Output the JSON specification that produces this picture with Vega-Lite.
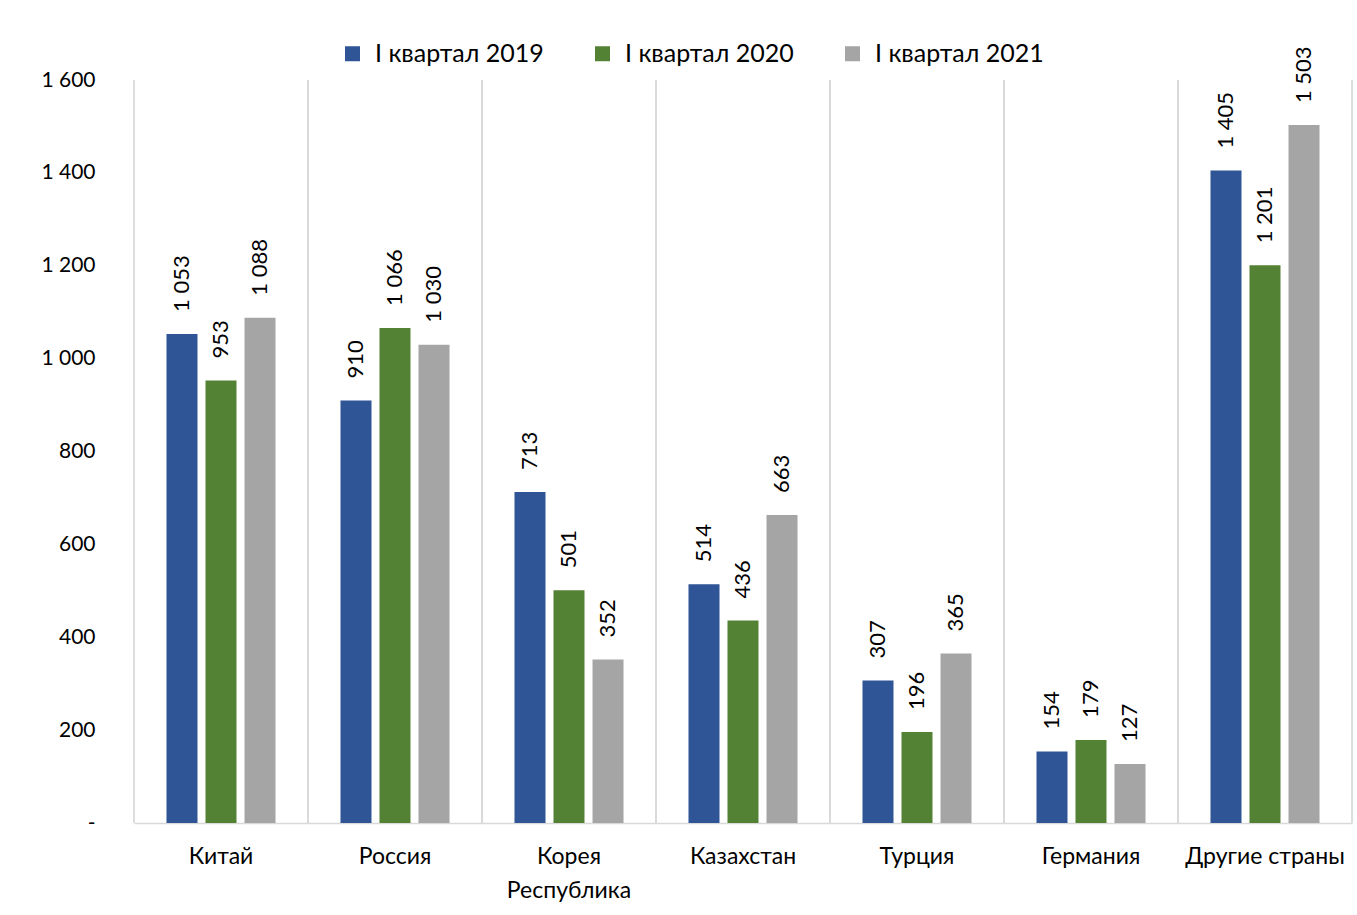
{
  "$schema": "https://vega.github.io/schema/vega-lite/v6.json",
  "autosize": "none",
  "width": 1218,
  "height": 743,
  "padding": {"left": 134, "top": 80, "right": 5, "bottom": 92},
  "background": "white",
  "config": {
    "font": "Lato",
    "view": {"stroke": null},
    "locale": {"number": {"decimal": ",", "thousands": " ", "grouping": [3], "currency": ["", ""]}}
  },
  "data": {"values": [
    {"country": "Китай", "series": "I квартал 2019", "value": 1053},
    {"country": "Китай", "series": "I квартал 2020", "value": 953},
    {"country": "Китай", "series": "I квартал 2021", "value": 1088},
    {"country": "Россия", "series": "I квартал 2019", "value": 910},
    {"country": "Россия", "series": "I квартал 2020", "value": 1066},
    {"country": "Россия", "series": "I квартал 2021", "value": 1030},
    {"country": "Корея Республика", "series": "I квартал 2019", "value": 713},
    {"country": "Корея Республика", "series": "I квартал 2020", "value": 501},
    {"country": "Корея Республика", "series": "I квартал 2021", "value": 352},
    {"country": "Казахстан", "series": "I квартал 2019", "value": 514},
    {"country": "Казахстан", "series": "I квартал 2020", "value": 436},
    {"country": "Казахстан", "series": "I квартал 2021", "value": 663},
    {"country": "Турция", "series": "I квартал 2019", "value": 307},
    {"country": "Турция", "series": "I квартал 2020", "value": 196},
    {"country": "Турция", "series": "I квартал 2021", "value": 365},
    {"country": "Германия", "series": "I квартал 2019", "value": 154},
    {"country": "Германия", "series": "I квартал 2020", "value": 179},
    {"country": "Германия", "series": "I квартал 2021", "value": 127},
    {"country": "Другие страны", "series": "I квартал 2019", "value": 1405},
    {"country": "Другие страны", "series": "I квартал 2020", "value": 1201},
    {"country": "Другие страны", "series": "I квартал 2021", "value": 1503}
  ]},
  "layer": [
    {
      "mark": {"type": "rule", "color": "#D9D9D9", "strokeWidth": 1},
      "encoding": {
        "x": {"field": "country", "type": "nominal", "sort": null, "bandPosition": 0,
              "scale": {"paddingInner": 0, "paddingOuter": 0},
              "axis": {"title": null, "ticks": false, "domain": true, "domainColor": "#D9D9D9", "domainWidth": 1.5,
                       "labelAngle": 0, "labelFontSize": 23, "labelColor": "#000000", "labelPadding": 22,
                       "labelLineHeight": 34, "labelBaseline": "top", "labelLimit": 0,
                       "labelExpr": "datum.label == 'Корея Республика' ? ['Корея', 'Республика'] : datum.label"}}
      }
    },
    {
      "mark": {"type": "rule", "color": "#D9D9D9", "strokeWidth": 1},
      "encoding": {
        "x": {"field": "country", "type": "nominal", "sort": null, "bandPosition": 1}
      }
    },
    {
      "mark": {"type": "bar"},
      "encoding": {
        "x": {"field": "country", "type": "nominal", "sort": null},
        "xOffset": {"field": "series", "type": "nominal", "scale": {"paddingInner": 0.205, "paddingOuter": 0.833}},
        "y": {"field": "value", "type": "quantitative",
              "scale": {"domain": [0, 1600], "nice": false},
              "axis": {"title": null, "values": [0, 200, 400, 600, 800, 1000, 1200, 1400, 1600],
                       "labelExpr": "datum.value == 0 ? '-\u00a0\u00a0\u00a0' : format(datum.value, ',d')",
                       "domain": false, "ticks": false, "grid": false, "labelPadding": 39,
                       "labelFontSize": 21, "labelColor": "#000000"}},
        "color": {"field": "series", "type": "nominal",
                  "scale": {"domain": ["I квартал 2019", "I квартал 2020", "I квартал 2021"], "range": ["#2F5597", "#548235", "#A5A5A5"]},
                  "legend": {"title": null, "orient": "none", "direction": "horizontal", "legendX": 206, "legendY": -39,
                             "padding": 0, "symbolType": "square", "symbolSize": 225, "symbolStrokeWidth": 0,
                             "labelFontSize": 25, "labelColor": "#000000", "labelOffset": 10, "labelLimit": 0,
                             "columnPadding": 46, "symbolOpacity": 1}}
      }
    },
    {
      "mark": {"type": "text", "angle": -90, "align": "left", "baseline": "middle", "dx": 22, "fontSize": 22, "color": "#000000"},
      "encoding": {
        "x": {"field": "country", "type": "nominal", "sort": null},
        "xOffset": {"field": "series", "type": "nominal"},
        "y": {"field": "value", "type": "quantitative"},
        "text": {"field": "value", "type": "quantitative", "format": ","}
      }
    }
  ]
}
